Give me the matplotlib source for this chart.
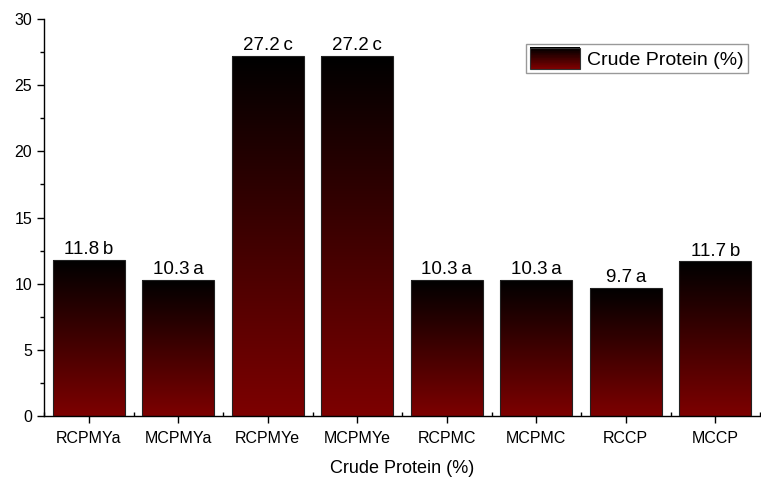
import numpy as np
import matplotlib
matplotlib.use("Agg")
import matplotlib.pyplot as plt
from matplotlib.colors import LinearSegmentedColormap
from matplotlib.patches import Rectangle
from matplotlib.legend_handler import HandlerBase
from matplotlib.ticker import MultipleLocator

plt.rcParams['font.family'] = ['Liberation Sans', 'DejaVu Sans']

samples = ["RCPMYa", "MCPMYa", "RCPMYe", "MCPMYe", "RCPMC", "MCPMC", "RCCP", "MCCP"]
protein = [11.8, 10.3, 27.2, 27.2, 10.3, 10.3, 9.7, 11.7]
groups = ["b", "a", "c", "c", "a", "a", "a", "b"]

grad = LinearSegmentedColormap.from_list("darkred", ["#7d0000", "#000000"])


class GradientHandler(HandlerBase):
    def create_artists(self, legend, orig_handle, xdescent, ydescent,
                       width, height, fontsize, trans):
        n = 30
        arts = []
        for i in range(n):
            r = Rectangle((-xdescent, -ydescent + i * height / n), width, height / n + 0.3,
                          facecolor=grad(i / (n - 1)), edgecolor='none', transform=trans)
            arts.append(r)
        arts.append(Rectangle((-xdescent, -ydescent), width, height, facecolor='none',
                              edgecolor='#333333', lw=0.8, transform=trans))
        return arts


fig = plt.figure(figsize=(7.61, 4.78), dpi=100)
ax = fig.add_axes([44 / 761, 62 / 478, 716 / 761, 397 / 478])

x = np.arange(len(samples))
width = 0.8
bars = ax.bar(x, protein, width, color='none', edgecolor='#222222', linewidth=0.8, zorder=3)

# vertical gradient inside each bar
ramp = np.linspace(0, 1, 256).reshape(-1, 1)
for b in bars:
    x0, y0 = b.get_x(), b.get_y()
    w, h = b.get_width(), b.get_height()
    im = ax.imshow(ramp, cmap=grad, origin='lower', aspect='auto',
                   extent=(x0, x0 + w, y0, y0 + h), zorder=2)
    im.set_clip_path(b)

for xi, v, g in zip(x, protein, groups):
    ax.text(xi, v + 0.12, f"{v:.1f}\u2009{g}", ha='center', va='bottom', fontsize=13.5)

ax.set_xlim(-0.5, len(samples) - 0.5)
ax.set_ylim(0, 30)
ax.set_xticks(x)
ax.set_xticklabels(samples)
ax.xaxis.set_minor_locator(MultipleLocator(1, offset=0.5))
ax.yaxis.set_major_locator(MultipleLocator(5))
ax.yaxis.set_minor_locator(MultipleLocator(2.5))
ax.tick_params(axis='both', which='major', direction='out', length=5, width=1, labelsize=11.5)
ax.tick_params(axis='x', which='major', pad=6)
ax.tick_params(axis='both', which='minor', direction='out', length=3, width=1)
ax.tick_params(axis='x', which='minor', direction='in', length=3)
for s in ['top', 'right']:
    ax.spines[s].set_visible(False)
for s in ['left', 'bottom']:
    ax.spines[s].set_linewidth(1)
ax.set_xlabel("Crude Protein (%)", fontsize=13, labelpad=10)

handle = Rectangle((0, 0), 1, 1)
ax.legend([handle], ["Crude Protein (%)"], handler_map={Rectangle: GradientHandler()},
          loc='upper right', bbox_to_anchor=(0.9965, 0.962), fontsize=14, fancybox=False,
          edgecolor='#999999', framealpha=1, handlelength=2.6, handleheight=1.3,
          borderpad=0.2, handletextpad=0.35)

fig.savefig("out.png", dpi=100)
